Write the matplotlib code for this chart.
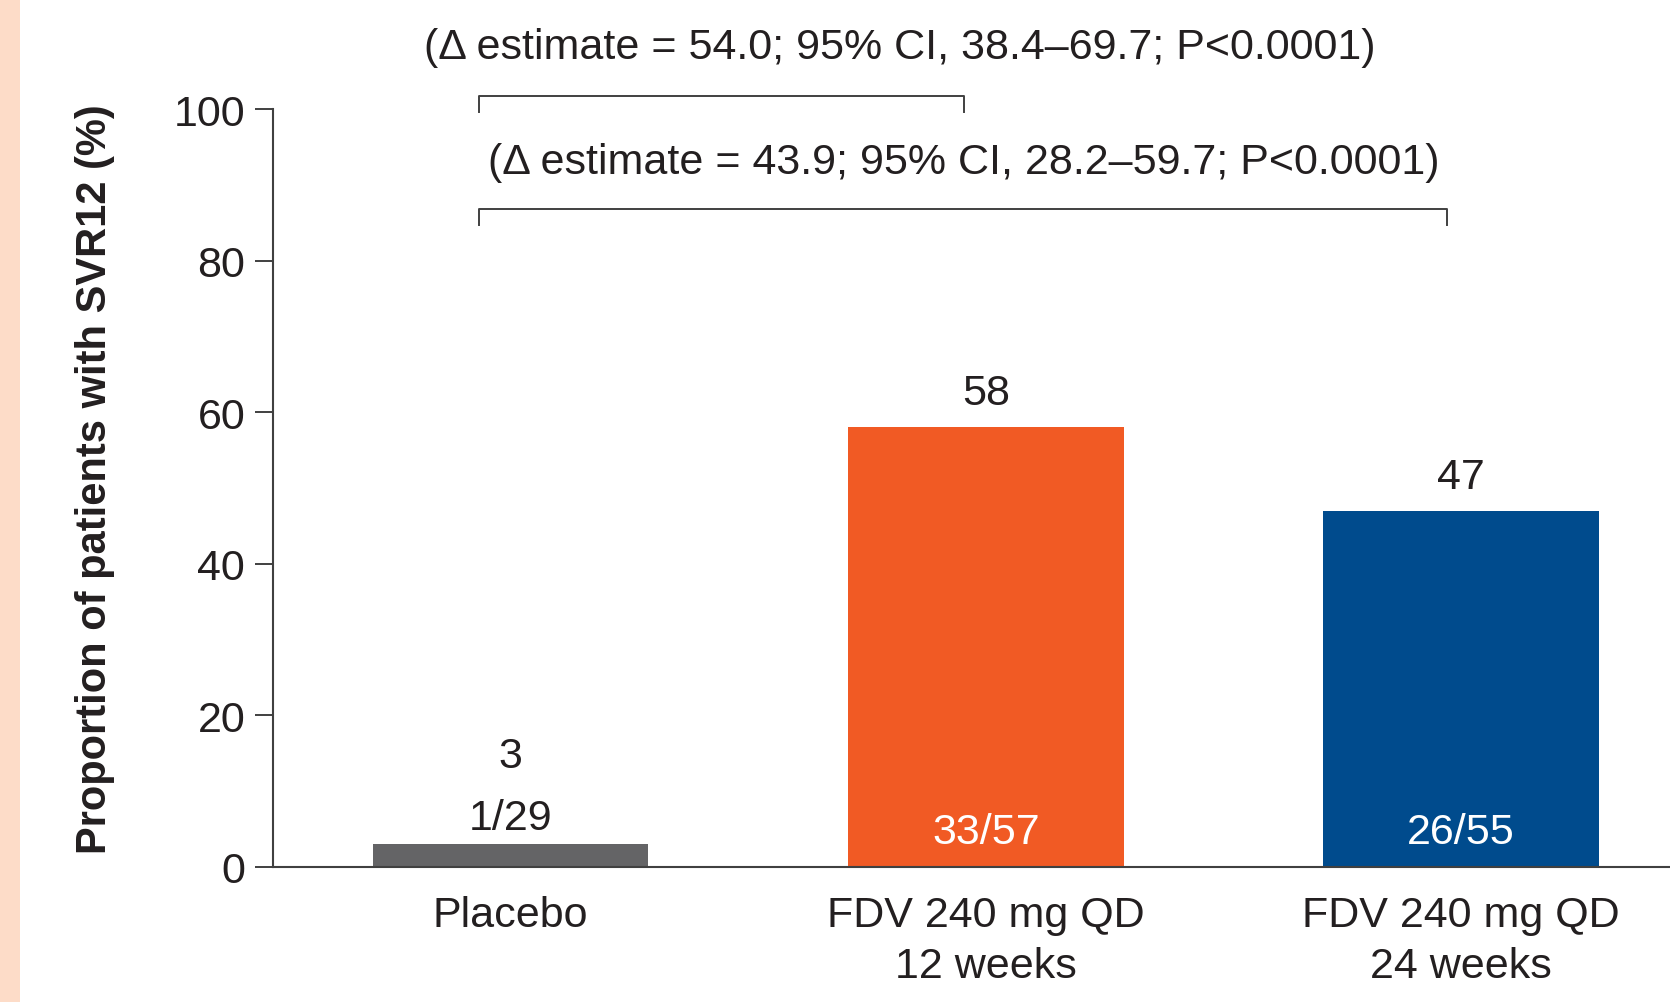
import matplotlib
matplotlib.use("Agg")
import matplotlib.pyplot as plt
from matplotlib.patches import Rectangle

# Data
groups = ["Placebo", "FDV 240 mg QD\n12 weeks", "FDV 240 mg QD\n24 weeks"]
svr12 = [3, 58, 47]
counts = ["1/29", "33/57", "26/55"]
bar_colors = ["#646466", "#F15A24", "#004B8D"]
comparisons = [
    "(\u0394 estimate = 54.0; 95% CI, 38.4\u201369.7; P<0.0001)",
    "(\u0394 estimate = 43.9; 95% CI, 28.2\u201359.7; P<0.0001)",
]
yticks = [0, 20, 40, 60, 80, 100]

plt.rcParams['font.family'] = ['Liberation Sans', 'DejaVu Sans']
text_color = "#231F20"
fs = 31

fig = plt.figure(figsize=(16.7, 10.03), dpi=100)
fig.patches.append(Rectangle((0, 0), 20 / 1670, 1, transform=fig.transFigure,
                             facecolor="#FDDCC8", edgecolor="none"))
ax = fig.add_axes([273 / 1670, 1 - 868 / 1003, 1 - 273 / 1670, (868 - 110) / 1003])

x = list(range(len(groups)))
ax.bar(x, svr12, width=0.58, color=bar_colors, zorder=2)

ax.set_xlim(-0.5, 2.44)
ax.set_ylim(0, 100)
ax.set_yticks(yticks)
ax.set_xticks(x)
ax.set_xticklabels(groups, fontsize=fs, color=text_color, linespacing=1.35)
ax.tick_params(axis="x", length=0, pad=20)
ax.tick_params(axis="y", length=13, width=1.4, color="#404040", pad=7,
               labelsize=fs, labelcolor=text_color)
for side in ["top", "right"]:
    ax.spines[side].set_visible(False)
for side in ["left", "bottom"]:
    ax.spines[side].set_linewidth(1.5)
    ax.spines[side].set_color("#404040")

ax.set_ylabel("Proportion of patients with SVR12 (%)", fontsize=30,
              fontweight="bold", color=text_color)
ax.yaxis.set_label_coords(-0.113, 0.513)

# value labels
for i, (v, c) in enumerate(zip(svr12, counts)):
    if v < 10:
        ax.text(i, 14.6, f"{v}", ha="center", va="center", fontsize=fs, color=text_color)
        ax.text(i, v + 3.5, c, ha="center", va="center", fontsize=fs, color=text_color)
    else:
        ax.text(i, v + 4.5, f"{v}", ha="center", va="center", fontsize=fs, color=text_color)
        ax.text(i, 4.6, c, ha="center", va="center", fontsize=fs, color="white")

# comparison brackets
bracket_kw = dict(color="#404040", lw=1.4, clip_on=False)
ax.plot([-0.066, -0.066, 0.955, 0.955], [99.6, 101.7, 101.7, 99.6], **bracket_kw)
ax.plot([-0.066, -0.066, 1.97, 1.97], [84.7, 86.8, 86.8, 84.7], **bracket_kw)
ax.text(0.818, 108.2, comparisons[0], ha="center", va="center", fontsize=fs,
        color=text_color, clip_on=False)
ax.text(0.953, 93.0, comparisons[1], ha="center", va="center", fontsize=fs,
        color=text_color, clip_on=False)

fig.savefig("out.png", dpi=100)
